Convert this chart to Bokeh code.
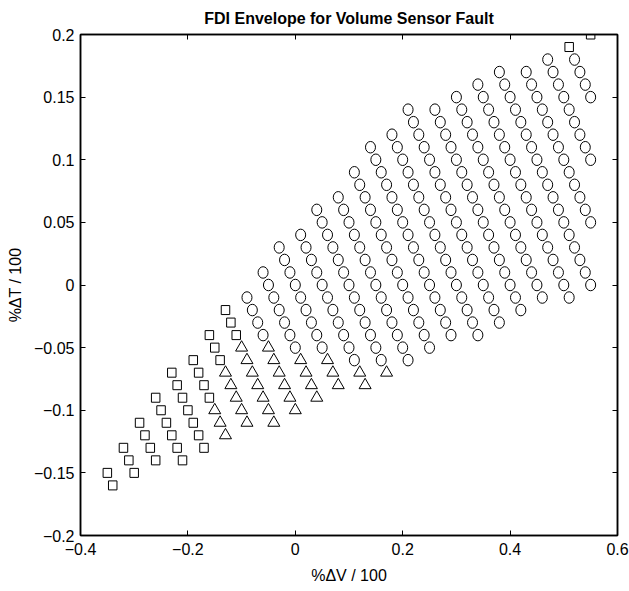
import numpy as np
from bokeh.plotting import figure
from bokeh.models import Range1d, FixedTicker, LinearAxis, CustomJSTickFormatter
from bokeh.embed import file_html
from bokeh.resources import INLINE

# Each run: (line sum x+y, first x, last x) of markers spaced 0.01 apart along x+y = const
square_runs = [
    (-0.50, -0.35, -0.34), (-0.45, -0.32, -0.30), (-0.40, -0.29, -0.26),
    (-0.35, -0.26, -0.21), (-0.30, -0.23, -0.17), (-0.25, -0.19, -0.16),
    (-0.20, -0.16, -0.14), (-0.15, -0.13, -0.11), (0.70, 0.51, 0.51),
    (0.75, 0.55, 0.55),
]
triangle_runs = [
    (-0.25, -0.15, -0.13), (-0.20, -0.13, -0.09), (-0.15, -0.10, -0.04),
    (-0.10, -0.05, 0.00), (-0.05, 0.01, 0.04), (0.00, 0.06, 0.08),
    (0.05, 0.12, 0.13), (0.10, 0.17, 0.17),
]
circle_runs = [
    (-0.10, -0.09, -0.06), (-0.05, -0.06, 0.00), (0.00, -0.03, 0.05),
    (0.05, 0.01, 0.11), (0.10, 0.04, 0.16), (0.15, 0.08, 0.21),
    (0.20, 0.11, 0.25), (0.25, 0.14, 0.29), (0.30, 0.18, 0.34),
    (0.35, 0.21, 0.38), (0.40, 0.26, 0.42), (0.45, 0.30, 0.46),
    (0.50, 0.34, 0.51), (0.55, 0.38, 0.55), (0.60, 0.43, 0.55),
    (0.65, 0.47, 0.55), (0.70, 0.52, 0.55),
]

x_ticks = [-0.4, -0.2, 0, 0.2, 0.4, 0.6]
x_labels = ["\u22120.4", "\u22120.2", "0", "0.2", "0.4", "0.6"]
y_ticks = [-0.2, -0.15, -0.1, -0.05, 0, 0.05, 0.1, 0.15, 0.2]
y_labels = ["\u22120.2", "\u22120.15", "\u22120.1", "\u22120.05", "0", "0.05", "0.1", "0.15", "0.2"]


def expand(runs):
    xs, ys = [], []
    for s, a, b in runs:
        for k in range(int(round(a * 100)), int(round(b * 100)) + 1):
            xs.append(k / 100)
            ys.append(round(s - k / 100, 2))
    return xs, ys


FONT = "Liberation Sans"

p = figure(width=629, height=591, x_range=Range1d(-0.4, 0.6), y_range=Range1d(-0.2, 0.2),
           output_backend="svg", toolbar_location=None,
           min_border_left=80, min_border_right=12, min_border_top=34, min_border_bottom=56)
p.title.text = "FDI Envelope for Volume Sensor Fault"
p.title.align = "center"
p.title.text_font = FONT
p.title.text_font_size = "16px"
p.title.text_font_style = "bold"
p.title.text_color = "black"
p.title.offset = 0
p.title.standoff = 15

p.xgrid.visible = False
p.ygrid.visible = False
p.outline_line_color = "black"
p.outline_line_width = 1.5

for ax, ticks, labels in [(p.xaxis[0], x_ticks, x_labels), (p.yaxis[0], y_ticks, y_labels)]:
    ax.ticker = FixedTicker(ticks=ticks)
    ax.major_label_overrides = {t: l for t, l in zip(ticks, labels)}
    ax.major_tick_in = 5
    ax.major_tick_out = 0
    ax.minor_tick_line_color = None
    ax.axis_line_color = "black"
    ax.axis_line_width = 1.5
    ax.major_tick_line_color = "black"
    ax.major_label_text_font = FONT
    ax.major_label_text_font_size = "16px"
    ax.major_label_text_color = "black"
    ax.axis_label_text_font = FONT
    ax.axis_label_text_font_size = "16px"
    ax.axis_label_text_font_style = "normal"
    ax.axis_label_text_color = "black"

p.xaxis.axis_label = "%\u0394V / 100"
p.yaxis.axis_label = "%\u0394T / 100"
p.xaxis.major_label_standoff = 7
p.yaxis.major_label_standoff = 6
p.xaxis.axis_label_standoff = 9
p.yaxis.axis_label_standoff = 7

for loc, ticks in [("above", x_ticks), ("right", y_ticks)]:
    ax = LinearAxis(ticker=FixedTicker(ticks=ticks), major_tick_in=5, major_tick_out=0,
                    minor_tick_line_color=None,
                    formatter=CustomJSTickFormatter(code="return ''"),
                    major_label_text_color=None, major_label_standoff=0,
                    axis_line_color="black", axis_line_width=1.5)
    p.add_layout(ax, loc)

sx, sy = expand(square_runs)
tx, ty = expand(triangle_runs)
cx, cy = expand(circle_runs)

p.rect(x=sx, y=sy, width=8.5, height=9, width_units="screen", height_units="screen",
       fill_color=None, line_color="black", line_width=1)
p.scatter(x=tx, y=ty, marker="triangle", size=12, fill_color=None, line_color="black", line_width=1)
p.ellipse(x=cx, y=cy, width=10, height=11.5, width_units="screen", height_units="screen",
          fill_color=None, line_color="black", line_width=1)

open("out.html", "w").write(file_html(p, INLINE))
